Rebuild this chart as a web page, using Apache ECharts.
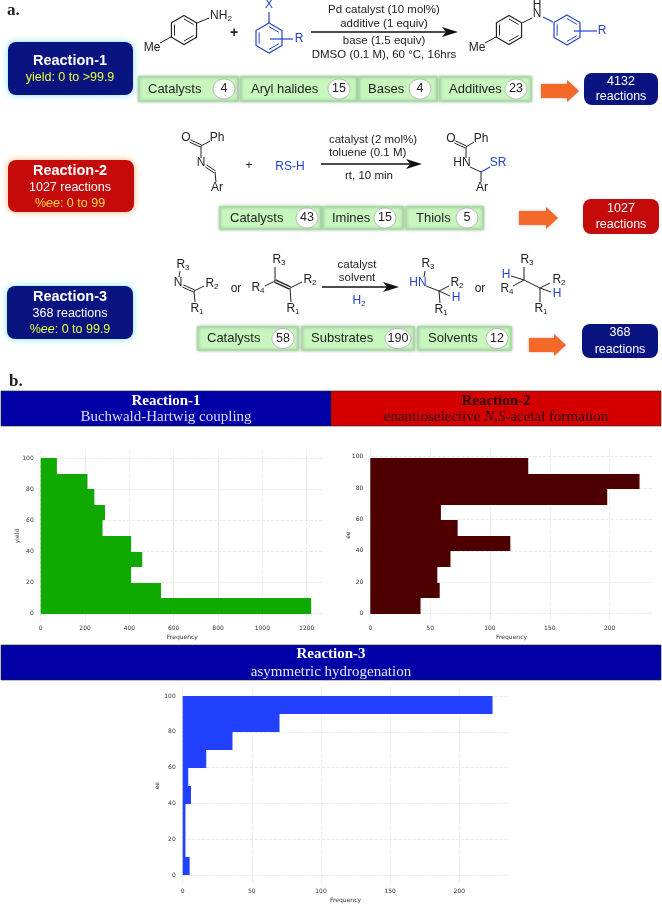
<!DOCTYPE html>
<html>
<head>
<meta charset="utf-8">
<title>Reaction datasets</title>
<style>
html,body{margin:0;padding:0;background:#fff;}
#chart{width:662px;height:906px;}
</style>
</head>
<body>
<div id="chart"></div>
<script src="https://cdn.jsdelivr.net/npm/echarts@6/dist/echarts.min.js"></script>
<script>
// histogram data, bottom bin first
var yieldEdges = [0,10,20,30,40,50,60,70,80,90,100];
var yieldFreq = [1220,543,408,458,408,279,290,242,211,73];
var ee2Edges = [0,9.9,19.8,29.7,39.6,49.5,59.4,69.3,79.2,89.1,99];
var ee2Freq = [42,58,56,67,117,73,59,198,225,132];
var ee3Edges = [0,10,20,30,40,50,60,70,80,90,100];
var ee3Freq = [5,2,2,2,6,4,17,36,70,224];
var yTicks = [0,20,40,60,80,100];
var xTicks1 = [0,200,400,600,800,1000,1200];
var xTicks2 = [0,50,100,150,200];
var xTicks3 = [0,50,100,150,200];

var NAVY = '#0a1480', RED = '#c40a0a', BLUE = '#2342cc', INK = '#222';
var SANS = '"Liberation Sans", Arial, sans-serif', SERIF = '"Liberation Serif", serif';
var g = [];

function bins(edges, freq){
	return freq.map(function(f,i){ return [edges[i],edges[i+1],f]; });
}
function renderBin(params, api){
	var a = api.coord([0, api.value(1)]);
	var b = api.coord([api.value(2), api.value(0)]);
	// snap the bin edges so neighbouring bars leave no seam
	var top = Math.round(a[1]), bottom = Math.round(b[1]);
	return {
		type:'rect',
		shape:{x:a[0],y:top,width:b[0]-a[0],height:bottom-top},
		style:api.style()
	};
}

function t(x,y,s,o){
	o = o || {};
	g.push({type:'text',x:x,y:y,z:5,style:{
		text:s,fill:o.color||INK,font:(o.style||'normal')+' '+(o.weight||'normal')+' '+(o.size||12)+'px '+(o.family||SANS),
		align:o.align||'center',verticalAlign:'middle',rich:o.rich
	}});
}
function sub(x,y,a,b,color){
	var c = color||INK;
	t(x,y,'{m|'+a+'}{s|'+b+'}',{rich:{
		m:{font:'12px '+SANS,fill:c},
		s:{font:'8px '+SANS,fill:c,verticalAlign:'bottom',padding:[6,0,0,0]}
	}});
}
function bond(x1,y1,x2,y2,color,w){
	g.push({type:'line',z:4,shape:{x1:x1,y1:y1,x2:x2,y2:y2},style:{stroke:color||INK,lineWidth:w||1}});
}
function dbl(x1,y1,x2,y2,color,w){
	var dx=x2-x1,dy=y2-y1,l=Math.sqrt(dx*dx+dy*dy),nx=-dy/l*1.2,ny=dx/l*1.2;
	bond(x1+nx,y1+ny,x2+nx,y2+ny,color,w);
	bond(x1-nx,y1-ny,x2-nx,y2-ny,color,w);
}
function ring(cx,cy,r,color){
	var p=[],i;
	for(i=0;i<6;i++){ p.push([cx+r*Math.sin(i*Math.PI/3),cy-r*Math.cos(i*Math.PI/3)]); }
	g.push({type:'polygon',z:4,shape:{points:p},style:{fill:'none',stroke:color||INK,lineWidth:1.2}});
	[0,2,4].forEach(function(k){
		var a=p[k],b=p[(k+1)%6],f=0.76;
		bond(cx+(a[0]-cx)*f,cy+(a[1]-cy)*f,cx+(b[0]-cx)*f,cy+(b[1]-cy)*f,color,1);
	});
}
function reactArrow(x1,x2,y){
	bond(x1,y,x2-10,y,'#111',1.6);
	g.push({type:'polygon',z:4,shape:{points:[[x2,y],[x2-16,y-5],[x2-12,y],[x2-16,y+5]]},style:{fill:'#111'}});
}
function panel(x1,y1,x2,y2,fill,glow){
	g.push({type:'rect',z:2,shape:{x:x1,y:y1,width:x2-x1,height:y2-y1,r:8},
		style:{fill:fill,shadowBlur:glow?7:0,shadowColor:glow||'transparent'}});
}
function chip(x1,x2,y1,y2,label,textX,n,cx){
	g.push({type:'rect',z:2,shape:{x:x1,y:y1,width:x2-x1,height:y2-y1},
		style:{fill:'#c8f7be',stroke:'#9fe29b',lineWidth:1.5,shadowBlur:3,shadowColor:'#aaa'}});
	t(textX,(y1+y2)/2,label,{size:13,align:'left'});
	g.push({type:'ellipse',z:3,shape:{cx:cx,cy:(y1+y2)/2,rx:n.length>2?13:11,ry:10},style:{fill:'#fff',stroke:'#aaa',lineWidth:0.8}});
	t(cx,(y1+y2)/2,n,{size:12.5});
}
function blockArrow(x1,x2,y){
	var h=x2-12;
	g.push({type:'polygon',z:2,shape:{points:[[x1,y-7],[h,y-7],[h,y-11],[x2,y],[h,y+11],[h,y+7],[x1,y+7]]},
		style:{fill:'#f4692a',shadowBlur:3,shadowColor:'#bbb'}});
}
function result(x1,x2,y1,y2,fill,n,y3,y4){
	panel(x1,y1,x2,y2,fill);
	t((x1+x2)/2,y3,n,{size:12.5,color:'#fff'});
	t((x1+x2)/2,y4,'reactions',{size:12.5,color:'#fff'});
}
function band(x1,x2,y1,y2,fill){
	g.push({type:'rect',z:2,shape:{x:x1,y:y1,width:x2-x1,height:y2-y1},style:{fill:fill,stroke:'#222',lineWidth:0.6}});
}

// panel a
t(7,11,'a.',{size:17,weight:'bold',family:SERIF,align:'left'});

// reaction 1
panel(8,42,133,95,NAVY,'#7fe3ee');
t(70,61,'Reaction-1',{size:14.5,weight:'bold',color:'#fff'});
t(70,78,'yield: 0 to >99.9',{size:12.5,color:'#e8ff3c'});
ring(184,30,14.5);
bond(197,23,209,18);
sub(221,16,'NH','2');
bond(171,37,160,43);
t(152,48,'Me',{size:12});
t(234,33,'+',{size:14,weight:'bold'});
ring(269,38,15,BLUE);
bond(269,12,269,23,BLUE,1.2);
t(269,5,'X',{color:BLUE});
bond(270,39,293,39,BLUE,1.2);
t(299,39,'R',{color:BLUE});
reactArrow(311,458,32);
t(384,10,'Pd catalyst (10 mol%)',{size:11.5});
t(384,24,'additive (1 equiv)',{size:11.5});
t(384,41,'base (1.5 equiv)',{size:11.5});
t(384,55,'DMSO (0.1 M), 60 °C, 16hrs',{size:11.5});
ring(509,30,14.5);
bond(522,23,532,18);
bond(496,37,485,43);
t(477,48,'Me',{size:12});
t(537,5,'H');
t(537,14,'N');
bond(543,17,553,22,BLUE,1.2);
ring(567,30,15,BLUE);
bond(574,31,597,31,BLUE,1.2);
t(602,31,'R',{color:BLUE});
chip(139,238,77,101,'Catalysts',148,'4',224);
chip(241,357,77,101,'Aryl halides',251,'15',339);
chip(359,437,77,101,'Bases',368,'4',420);
chip(440,531,77,101,'Additives',449,'23',516);
blockArrow(541,579,91);
result(584,658,73,105,NAVY,'4132',82,97);

// reaction 2
panel(8,160,134,212,RED,'#f7b27a');
t(70,171,'Reaction-2',{size:14.5,weight:'bold',color:'#fff'});
t(70,188,'1027 reactions',{size:12.5,color:'#fff'});
t(70,204,'{a|%}{b|ee}{a|: 0 to 99}',{rich:{a:{font:'12.5px '+SANS,fill:'#ffd83c'},b:{font:'italic 12.5px '+SANS,fill:'#ffd83c'}}});
t(186,138,'O');
t(217,138,'Ph');
t(201,163,'N');
t(217,188,'Ar');
dbl(190,141,201,146);
bond(201,146,210,141);
bond(201,146,201,158);
dbl(206,166,215,172);
bond(215,172,216,182);
t(249,166,'+',{size:12});
t(290,167,'RS-H',{color:BLUE,size:12});
reactArrow(321,422,164);
t(373,140,'catalyst (2 mol%)',{size:11.5});
t(329,153,'toluene (0.1 M)',{size:11.5,align:'left'});
t(369,176,'rt, 10 min',{size:11.5});
t(451,139,'O');
t(481,139,'Ph');
t(462,163,'HN');
t(498,163,'SR',{color:BLUE});
t(482,188,'Ar');
dbl(455,142,466,147);
bond(466,147,474,142);
bond(466,147,466,158);
bond(470,167,481,172);
bond(481,172,490,167,BLUE,1.2);
bond(481,172,481,182);
chip(220,321,207,229,'Catalysts',230,'43',307);
chip(323,403,207,229,'Imines',332,'15',385);
chip(406,483,207,229,'Thiols',416,'5',467);
blockArrow(519,558,218);
result(583,659,199,234,RED,'1027',209,225);

// reaction 3
panel(7,286,133,339,NAVY,'#7fe3ee');
t(70,297,'Reaction-3',{size:14.5,weight:'bold',color:'#fff'});
t(70,314,'368 reactions',{size:12.5,color:'#fff'});
t(70,330,'{a|%}{b|ee}{a|: 0 to 99.9}',{rich:{a:{font:'12.5px '+SANS,fill:'#e8ff3c'},b:{font:'italic 12.5px '+SANS,fill:'#e8ff3c'}}});
sub(183,265,'R','3');
t(178,283,'N');
sub(212,284,'R','2');
sub(197,309,'R','1');
bond(180,271,179,277);
dbl(183,286,194,291);
bond(194,291,204,286);
bond(194,291,195,302);
t(236,289,'or',{size:12});
sub(279,260,'R','3');
sub(258,288,'R','4');
sub(310,280,'R','2');
sub(293,309,'R','1');
bond(275,267,275,281);
bond(275,281,265,286);
dbl(275,281,290,288,INK,1.5);
bond(290,288,302,282);
bond(290,288,291,302);
reactArrow(322,399,287);
t(357,265,'catalyst',{size:11.5});
t(357,278,'solvent',{size:11.5});
sub(359,301,'H','2',BLUE);
sub(428,264,'R','3');
t(418,283,'HN',{color:BLUE});
sub(457,283,'R','2');
t(456,298,'H',{color:BLUE});
sub(441,310,'R','1');
bond(425,271,424,277);
bond(426,286,439,291);
bond(439,291,449,286);
bond(439,291,450,296);
bond(439,291,440,303);
t(480,289,'or',{size:12});
sub(527,260,'R','3');
t(506,275,'H',{color:BLUE});
sub(507,289,'R','4');
sub(559,280,'R','2');
t(557,294,'H',{color:BLUE});
sub(541,309,'R','1');
bond(524,267,524,280);
bond(524,280,511,276);
bond(524,280,513,286);
bond(524,280,540,288);
bond(540,288,550,283);
bond(540,288,551,292);
bond(540,288,540,302);
chip(198,298,327,350,'Catalysts',207,'58',283);
chip(302,414,327,350,'Substrates',311,'190',398);
chip(418,511,327,350,'Solvents',428,'12',497);
blockArrow(529,566,345);
result(582,658,324,358,NAVY,'368',333,350);

// panel b headers
t(9,382,'b.',{size:17,weight:'bold',family:SERIF,align:'left'});
band(1,331,391,426,'#0000a6');
band(331,661,391,426,'#d40000');
band(1,661,645,680,'#0000a6');
t(166,401,'Reaction-1',{size:15,weight:'bold',family:SERIF,color:'#fff'});
t(166,417,'Buchwald-Hartwig coupling',{size:15,family:SERIF,color:'#dcdcff'});
t(496,401,'Reaction-2',{size:15,weight:'bold',family:SERIF,color:'#2a0000'});
t(496,417,'{a|enantioselective }{b|N,S}{a|-acetal formation}',{rich:{
	a:{font:'15px '+SERIF,fill:'#2a0000'},b:{font:'italic 15px '+SERIF,fill:'#2a0000'}}});
t(331,654,'Reaction-3',{size:15,weight:'bold',family:SERIF,color:'#fff'});
t(331,672,'asymmetric hydrogenation',{size:15,family:SERIF,color:'#e6e6ff'});

function plain(v){ return String(v); }
function xAxis(idx,max,ticks){
	return {
		type:'value',gridIndex:idx,min:0,max:max,
		name:'Frequency',nameLocation:'middle',nameGap:13,
		nameMoveOverlap:false,
		nameTextStyle:{fontSize:6,color:'#333',fontFamily:'DejaVu Sans'},
		axisLine:{show:false},
		axisTick:{show:false,customValues:ticks},
		axisLabel:{color:'#333',fontSize:6,fontFamily:'DejaVu Sans',margin:4,formatter:plain,customValues:ticks},
		splitLine:{show:true,lineStyle:{color:'#dbe5ec',type:'dashed',width:0.8}}
	};
}
function yAxis(idx,name,gap){
	return {
		type:'value',gridIndex:idx,min:-5,max:105,
		name:name,nameLocation:'middle',nameGap:gap,
		nameMoveOverlap:false,
		nameTextStyle:{fontSize:6,color:'#333',fontFamily:'DejaVu Sans'},
		axisLine:{show:false},
		axisTick:{show:false,customValues:yTicks},
		axisLabel:{color:'#333',fontSize:6,fontFamily:'DejaVu Sans',margin:7,formatter:plain,customValues:yTicks},
		splitLine:{show:true,lineStyle:{color:'#dbe5ec',type:'dashed',width:0.8}}
	};
}
function histSeries(idx,edges,freq,color){
	return {
		type:'custom',xAxisIndex:idx,yAxisIndex:idx,
		renderItem:renderBin,
		encode:{x:2,y:[0,1]},
		itemStyle:{color:color},
		data:bins(edges,freq)
	};
}

var myChart = echarts.init(document.getElementById('chart'));
myChart.setOption({
	animation:false,
	backgroundColor:'#fff',
	grid:[
		{left:40.7,top:450.5,width:283.3,height:171},
		{left:370.3,top:448.8,width:282.4,height:172.7},
		{left:182.7,top:687,width:325.6,height:197.3}
	],
	xAxis:[xAxis(0,1278,xTicks1),xAxis(1,236,xTicks2),xAxis(2,235.4,xTicks3)],
	yAxis:[yAxis(0,'yield',20.7),yAxis(1,'ee',19.3),yAxis(2,'ee',22.7)],
	series:[
		histSeries(0,yieldEdges,yieldFreq,'#10a900'),
		histSeries(1,ee2Edges,ee2Freq,'#4e0000'),
		histSeries(2,ee3Edges,ee3Freq,'#2140ff')
	],
	graphic:g
});
</script>
</body>
</html>
